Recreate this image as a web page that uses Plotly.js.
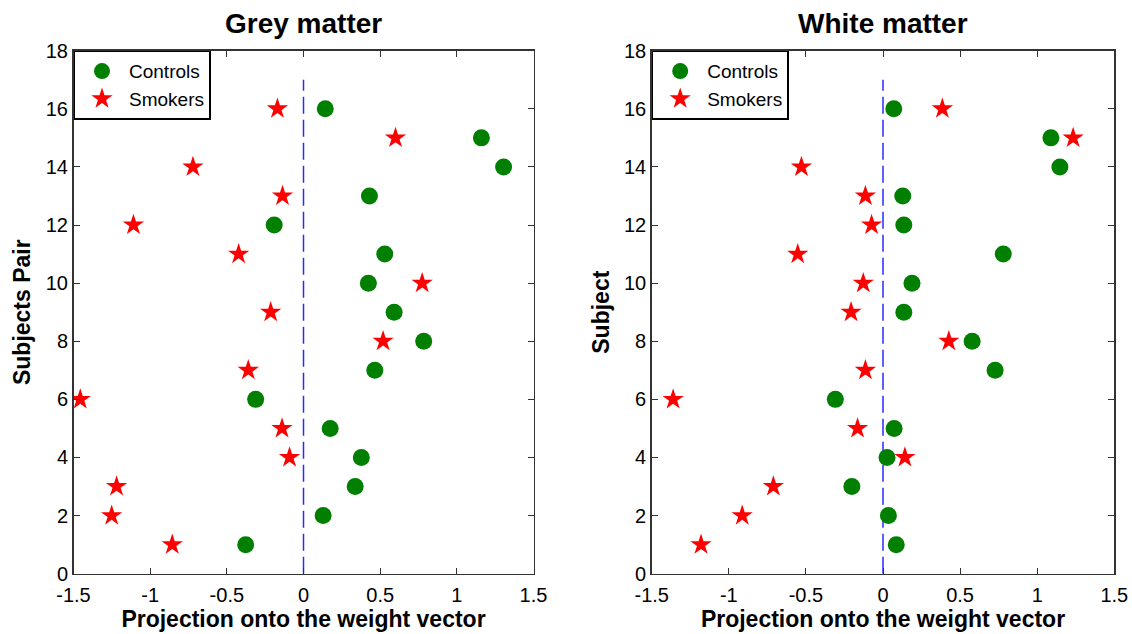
<!DOCTYPE html>
<html>
<head>
<meta charset="utf-8">
<script src="https://cdn.plot.ly/plotly-3.0.1.min.js"></script>
<style>html,body{margin:0;padding:0;background:#fff;}#chart{width:1132px;height:634px;}</style>
</head>
<body>
<div id="chart"></div>
<script>
// Subject pair indices
const subjects = [1,2,3,4,5,6,7,8,9,10,11,12,13,14,15,16];

// Grey matter projections
const greyControls = [-0.377, 0.128, 0.337, 0.377, 0.174, -0.312, 0.465, 0.784, 0.591, 0.423, 0.530, -0.191, 0.430, 1.305, 1.160, 0.142];
const greySmokers  = [-0.856, -1.251, -1.219, -0.091, -0.140, -1.456, -0.360, 0.519, -0.214, 0.774, -0.423, -1.109, -0.137, -0.721, 0.600, -0.170];

// White matter projections
const whiteControls = [0.086, 0.035, -0.202, 0.026, 0.072, -0.309, 0.727, 0.578, 0.135, 0.188, 0.780, 0.135, 0.128, 1.147, 1.089, 0.070];
const whiteSmokers  = [-1.180, -0.913, -0.711, 0.142, -0.165, -1.361, -0.114, 0.427, -0.207, -0.128, -0.553, -0.074, -0.114, -0.529, 1.233, 0.385];

// Decision boundary (dashed line)
const boundaryX = [0, 0];
const boundaryY = [0, 17];

const xTicks = [-1.5, -1, -0.5, 0, 0.5, 1, 1.5];
const xTickText = ['-1.5', '-1', '-0.5', '0', '0.5', '1', '1.5'];
const yTicks = [0, 2, 4, 6, 8, 10, 12, 14, 16, 18];

const titles = ['Grey matter', 'White matter'];
const yTitles = ['Subjects Pair', 'Subject'];
const xTitle = 'Projection onto the weight vector';

const FONT = 'Arial, "Liberation Sans", Helvetica, sans-serif';
const GREEN = '#007f00';
const RED = '#ff0000';

function ctrlTrace(x, xa, ya, lg) {
  return {x: x, y: subjects, xaxis: xa, yaxis: ya, legend: lg, type: 'scatter', mode: 'markers', name: 'Controls',
    marker: {symbol: 'circle', size: 17, color: GREEN, line: {width: 0}}};
}
function smokTrace(x, xa, ya, lg) {
  return {x: x, y: subjects, xaxis: xa, yaxis: ya, legend: lg, type: 'scatter', mode: 'markers', name: 'Smokers',
    marker: {symbol: 'star', size: 16, color: RED, line: {width: 0}}};
}
function lineTrace(xa, ya) {
  return {x: boundaryX, y: boundaryY, xaxis: xa, yaxis: ya, type: 'scatter', mode: 'lines', showlegend: false,
    hoverinfo: 'skip', line: {color: '#2a2aff', width: 1.5, dash: '17px,6px'}};
}

const data = [
  lineTrace('x', 'y'),
  ctrlTrace(greyControls, 'x', 'y', 'legend'),
  smokTrace(greySmokers, 'x', 'y', 'legend'),
  lineTrace('x2', 'y2'),
  ctrlTrace(whiteControls, 'x2', 'y2', 'legend2'),
  smokTrace(whiteSmokers, 'x2', 'y2', 'legend2')
];

function xAxis(domain, anchor) {
  return {domain: domain, anchor: anchor, range: [-1.5, 1.5], tickmode: 'array', tickvals: xTicks, ticktext: xTickText,
    ticks: 'inside', ticklen: 6, tickwidth: 1, tickcolor: '#333', showline: true, linecolor: '#333', linewidth: 1.5,
    mirror: 'ticks', showgrid: false, zeroline: false, tickfont: {family: FONT, size: 20, color: '#000'},
    ticklabelstandoff: 3,
    title: {text: xTitle, font: {family: FONT, size: 23, color: '#000', weight: 'bold'}, standoff: 3}, automargin: false};
}
function yAxis(domain, anchor, t) {
  return {domain: domain, anchor: anchor, range: [0, 18], tickmode: 'array', tickvals: yTicks,
    ticks: 'inside', ticklen: 6, tickwidth: 1, tickcolor: '#333', showline: true, linecolor: '#333', linewidth: 1.5,
    mirror: 'ticks', showgrid: false, zeroline: false, tickfont: {family: FONT, size: 20, color: '#000'},
    title: {text: t, font: {family: FONT, size: 23, color: '#000', weight: 'bold'}, standoff: 8}, automargin: false};
}

const W = 1132, H = 634;
const yDom = [(H - 573.7) / H, (H - 50.7) / H];
const x1Dom = [73.5 / W, 533.5 / W];
const x2Dom = [651.7 / W, 1114.3 / W];

function legendCfg(xpx) {
  return {x: xpx / W, xanchor: 'left', y: yDom[1], yanchor: 'top', xref: 'paper', yref: 'paper',
    bgcolor: '#fff', bordercolor: '#000', borderwidth: 1.5, itemwidth: 44,
    font: {family: FONT, size: 19, color: '#000'}, tracegroupgap: 0};
}

const layout = {
  width: W, height: H, margin: {l: 0, r: 0, t: 0, b: 0}, paper_bgcolor: '#fff', plot_bgcolor: '#fff',
  showlegend: true,
  xaxis: xAxis(x1Dom, 'y'),
  yaxis: yAxis(yDom, 'x', yTitles[0]),
  xaxis2: xAxis(x2Dom, 'y2'),
  yaxis2: yAxis(yDom, 'x2', yTitles[1]),
  legend: legendCfg(73.5),
  legend2: legendCfg(651.7),
  annotations: [
    {text: titles[0], xref: 'paper', yref: 'paper', x: (x1Dom[0] + x1Dom[1]) / 2, y: (H - 24) / H, xanchor: 'center', yanchor: 'middle',
      showarrow: false, font: {family: FONT, size: 28, color: '#000', weight: 'bold'}},
    {text: titles[1], xref: 'paper', yref: 'paper', x: (x2Dom[0] + x2Dom[1]) / 2, y: (H - 24) / H, xanchor: 'center', yanchor: 'middle',
      showarrow: false, font: {family: FONT, size: 28, color: '#000', weight: 'bold'}}
  ]
};

Plotly.newPlot('chart', data, layout, {displayModeBar: false, staticPlot: true});
</script>
</body>
</html>
